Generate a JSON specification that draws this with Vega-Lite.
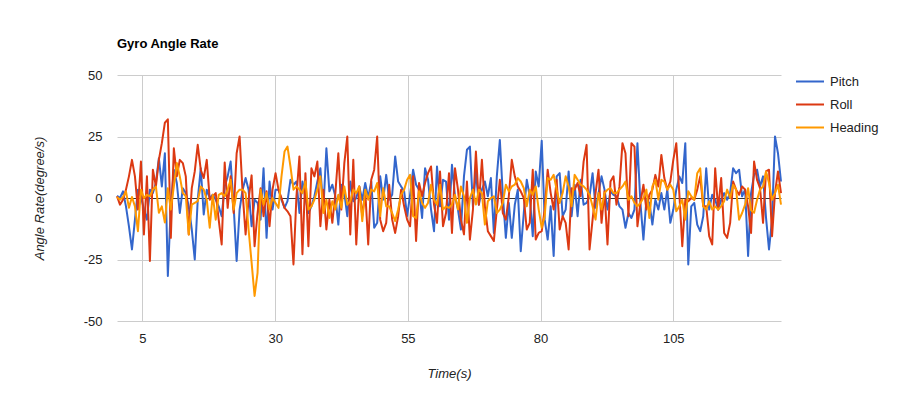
{
"$schema": "https://vega.github.io/schema/vega-lite/v6.json",
"width": 664, "height": 246,
"autosize": {"type": "none"},
"padding": {"left": 117, "top": 75, "right": 130, "bottom": 72},
"background": "white",
"title": {"text": "Gyro Angle Rate", "anchor": "start", "frame": "group", "offset": 18, "fontSize": 13, "fontWeight": "bold", "font": "Liberation Sans", "color": "#000"},
"data": {"values": [
{"t":0.2,"Pitch":0.9,"Roll":0.7,"Heading":0.4},
{"t":0.76,"Pitch":0,"Roll":-2.7,"Heading":-0.7},
{"t":1.33,"Pitch":2.7,"Roll":-0.7,"Heading":0.4},
{"t":1.89,"Pitch":-3.4,"Roll":3.4,"Heading":2.7},
{"t":2.45,"Pitch":-11.5,"Roll":8.8,"Heading":-4},
{"t":3.02,"Pitch":-20.9,"Roll":15.5,"Heading":0.4},
{"t":3.58,"Pitch":-8.8,"Roll":8.8,"Heading":-3.4},
{"t":4.14,"Pitch":3.4,"Roll":-4.7,"Heading":-13.5},
{"t":4.71,"Pitch":0.7,"Roll":14.8,"Heading":3.4},
{"t":5.27,"Pitch":-4.7,"Roll":-14.8,"Heading":0},
{"t":5.84,"Pitch":-8.8,"Roll":8.8,"Heading":1.3},
{"t":6.4,"Pitch":3.4,"Roll":-25.6,"Heading":0.7},
{"t":6.96,"Pitch":2,"Roll":11.5,"Heading":3.4},
{"t":7.53,"Pitch":6.1,"Roll":4.7,"Heading":4.7},
{"t":8.09,"Pitch":16.2,"Roll":15.5,"Heading":-6},
{"t":8.65,"Pitch":4.7,"Roll":22.3,"Heading":-3.4},
{"t":9.22,"Pitch":18.2,"Roll":30.6,"Heading":-10},
{"t":9.78,"Pitch":-31.7,"Roll":32,"Heading":4},
{"t":10.34,"Pitch":-3.4,"Roll":-16.2,"Heading":-4.7},
{"t":10.91,"Pitch":11.5,"Roll":20.2,"Heading":4.7},
{"t":11.47,"Pitch":6.1,"Roll":8.8,"Heading":14.2},
{"t":12.03,"Pitch":-6.1,"Roll":15.5,"Heading":8.8},
{"t":12.6,"Pitch":4,"Roll":14.2,"Heading":2},
{"t":13.16,"Pitch":2,"Roll":8.8,"Heading":0.7},
{"t":13.72,"Pitch":-3.4,"Roll":-14.8,"Heading":-14.8},
{"t":14.29,"Pitch":-12.8,"Roll":4,"Heading":-2.7},
{"t":14.85,"Pitch":-25,"Roll":10.8,"Heading":-2},
{"t":15.41,"Pitch":-0.7,"Roll":21.6,"Heading":-1.3},
{"t":15.98,"Pitch":12.1,"Roll":11.5,"Heading":4.7},
{"t":16.54,"Pitch":-6.7,"Roll":8.1,"Heading":3.4},
{"t":17.11,"Pitch":3.4,"Roll":15.5,"Heading":-0.7},
{"t":17.67,"Pitch":0,"Roll":-0.7,"Heading":-12.1},
{"t":18.23,"Pitch":1.3,"Roll":0.7,"Heading":1.3},
{"t":18.8,"Pitch":-0.7,"Roll":2,"Heading":-8.8},
{"t":19.36,"Pitch":-3.4,"Roll":-8.8,"Heading":1.3},
{"t":19.92,"Pitch":-7.4,"Roll":-18.9,"Heading":2},
{"t":20.49,"Pitch":4.7,"Roll":14.4,"Heading":0.7},
{"t":21.05,"Pitch":8.8,"Roll":-4,"Heading":3.4},
{"t":21.61,"Pitch":14.8,"Roll":8.8,"Heading":7.4},
{"t":22.18,"Pitch":-3.4,"Roll":-6.1,"Heading":-4.7},
{"t":22.74,"Pitch":-25.6,"Roll":18.2,"Heading":2},
{"t":23.3,"Pitch":-4.7,"Roll":25,"Heading":3.4},
{"t":23.87,"Pitch":3.4,"Roll":2,"Heading":3.4},
{"t":24.43,"Pitch":8.1,"Roll":-14.8,"Heading":2},
{"t":24.99,"Pitch":3.4,"Roll":-0.7,"Heading":-12.8},
{"t":25.56,"Pitch":-11.5,"Roll":9.2,"Heading":-26.3},
{"t":26.12,"Pitch":-0.7,"Roll":-19.6,"Heading":-39.8},
{"t":26.68,"Pitch":-2,"Roll":-6.1,"Heading":-30.4},
{"t":27.25,"Pitch":-8.8,"Roll":4,"Heading":3.4},
{"t":27.81,"Pitch":12.1,"Roll":-7.4,"Heading":-2.7},
{"t":28.38,"Pitch":-16.2,"Roll":2.7,"Heading":2},
{"t":28.94,"Pitch":6.7,"Roll":-11.5,"Heading":-4.7},
{"t":29.5,"Pitch":-4.7,"Roll":3.4,"Heading":0},
{"t":30.07,"Pitch":3.4,"Roll":10.1,"Heading":-2},
{"t":30.63,"Pitch":3.4,"Roll":3.4,"Heading":-4},
{"t":31.19,"Pitch":-0.7,"Roll":0,"Heading":8.8},
{"t":31.76,"Pitch":-4,"Roll":-4,"Heading":18.9},
{"t":32.32,"Pitch":-1.3,"Roll":-5.4,"Heading":20.9},
{"t":32.88,"Pitch":7.4,"Roll":-7.4,"Heading":12.8},
{"t":33.45,"Pitch":5.4,"Roll":-27,"Heading":3.4},
{"t":34.01,"Pitch":6.7,"Roll":0.7,"Heading":4.7},
{"t":34.57,"Pitch":-6.1,"Roll":16.9,"Heading":3.4},
{"t":35.14,"Pitch":6.7,"Roll":-22.9,"Heading":2},
{"t":35.7,"Pitch":0,"Roll":10.1,"Heading":6.7},
{"t":36.26,"Pitch":-6.1,"Roll":-19.6,"Heading":-4.7},
{"t":36.83,"Pitch":-3.4,"Roll":12.1,"Heading":-3.4},
{"t":37.39,"Pitch":0.7,"Roll":8.8,"Heading":-0.7},
{"t":37.95,"Pitch":6.7,"Roll":14.8,"Heading":3.4},
{"t":38.52,"Pitch":12.1,"Roll":-11.5,"Heading":8.8},
{"t":39.08,"Pitch":-4.7,"Roll":3.4,"Heading":-6.1},
{"t":39.65,"Pitch":20.2,"Roll":-12.8,"Heading":-0.7},
{"t":40.21,"Pitch":2.7,"Roll":-0.7,"Heading":-8.1},
{"t":40.77,"Pitch":5.4,"Roll":-10.1,"Heading":-1.3},
{"t":41.34,"Pitch":0.7,"Roll":2,"Heading":-4.7},
{"t":41.9,"Pitch":-10.8,"Roll":18.2,"Heading":1.3},
{"t":42.46,"Pitch":5.4,"Roll":-4.7,"Heading":-4},
{"t":43.03,"Pitch":2,"Roll":14.2,"Heading":4.7},
{"t":43.59,"Pitch":-7.4,"Roll":25,"Heading":-2.7},
{"t":44.15,"Pitch":6.7,"Roll":-14.8,"Heading":-1.3},
{"t":44.72,"Pitch":-1.3,"Roll":15.5,"Heading":3.4},
{"t":45.28,"Pitch":0,"Roll":-18.9,"Heading":2},
{"t":45.84,"Pitch":4.7,"Roll":4.7,"Heading":4.7},
{"t":46.41,"Pitch":-0.7,"Roll":-7.4,"Heading":-9.4},
{"t":46.97,"Pitch":6.1,"Roll":2.7,"Heading":3.4},
{"t":47.53,"Pitch":0,"Roll":-18.9,"Heading":-0.7},
{"t":48.1,"Pitch":6.7,"Roll":7.4,"Heading":3.4},
{"t":48.66,"Pitch":-12.1,"Roll":11.5,"Heading":2.7},
{"t":49.22,"Pitch":-10.1,"Roll":25,"Heading":6.1},
{"t":49.79,"Pitch":8.8,"Roll":-8.8,"Heading":-7.4},
{"t":50.35,"Pitch":-0.7,"Roll":-13.5,"Heading":4},
{"t":50.92,"Pitch":9.4,"Roll":-10.1,"Heading":-3.4},
{"t":51.48,"Pitch":-0.7,"Roll":5.4,"Heading":-3.4},
{"t":52.04,"Pitch":1.3,"Roll":-8.8,"Heading":-6.1},
{"t":52.61,"Pitch":16.9,"Roll":-14.2,"Heading":-9.4},
{"t":53.17,"Pitch":6.7,"Roll":-7.4,"Heading":-4.7},
{"t":53.73,"Pitch":4.7,"Roll":3.4,"Heading":1.3},
{"t":54.3,"Pitch":2.7,"Roll":-3.4,"Heading":3.4},
{"t":54.86,"Pitch":-7.4,"Roll":-8.8,"Heading":7.4},
{"t":55.42,"Pitch":1.3,"Roll":-11.5,"Heading":9.4},
{"t":55.99,"Pitch":11.5,"Roll":8.8,"Heading":-7.4},
{"t":56.55,"Pitch":5.4,"Roll":-17.5,"Heading":-8.1},
{"t":57.11,"Pitch":3.4,"Roll":6.1,"Heading":2.7},
{"t":57.68,"Pitch":-8.1,"Roll":0.7,"Heading":-2},
{"t":58.24,"Pitch":12.1,"Roll":6.1,"Heading":-4},
{"t":58.8,"Pitch":7.4,"Roll":10.1,"Heading":-2},
{"t":59.37,"Pitch":-4.7,"Roll":12.8,"Heading":5.4},
{"t":59.93,"Pitch":-13.5,"Roll":-2.7,"Heading":-0.7},
{"t":60.49,"Pitch":12.8,"Roll":-10.1,"Heading":-2.7},
{"t":61.06,"Pitch":-3.4,"Roll":10.8,"Heading":5.4},
{"t":61.62,"Pitch":7.4,"Roll":-11.5,"Heading":-4.7},
{"t":62.19,"Pitch":6.7,"Roll":-6.1,"Heading":-3.4},
{"t":62.75,"Pitch":-8.8,"Roll":10.1,"Heading":-4},
{"t":63.31,"Pitch":13.5,"Roll":-14.2,"Heading":-2.7},
{"t":63.88,"Pitch":0.7,"Roll":12.1,"Heading":1.3},
{"t":64.44,"Pitch":-4.7,"Roll":3.4,"Heading":-4.7},
{"t":65.0,"Pitch":-12.8,"Roll":-8.8,"Heading":4.7},
{"t":65.57,"Pitch":8.8,"Roll":-14.8,"Heading":0.7},
{"t":66.13,"Pitch":19.6,"Roll":6.7,"Heading":-10.1},
{"t":66.69,"Pitch":20.9,"Roll":-16.9,"Heading":0},
{"t":67.26,"Pitch":-3.4,"Roll":-4.7,"Heading":3.4},
{"t":67.82,"Pitch":10.8,"Roll":18.9,"Heading":-2.7},
{"t":68.38,"Pitch":-2.7,"Roll":-2.7,"Heading":3.4},
{"t":68.95,"Pitch":3.4,"Roll":15.5,"Heading":2},
{"t":69.51,"Pitch":6.7,"Roll":-3.4,"Heading":-10.8},
{"t":70.07,"Pitch":0.7,"Roll":-13.5,"Heading":-1.3},
{"t":70.64,"Pitch":8.1,"Roll":-15.5,"Heading":0},
{"t":71.2,"Pitch":-14.2,"Roll":-17.5,"Heading":0.7},
{"t":71.76,"Pitch":8.8,"Roll":-4.7,"Heading":-6.1},
{"t":72.33,"Pitch":23.6,"Roll":7.4,"Heading":-4.7},
{"t":72.89,"Pitch":1.3,"Roll":-6.1,"Heading":-2},
{"t":73.46,"Pitch":-16.2,"Roll":-8.8,"Heading":5.4},
{"t":74.02,"Pitch":-2,"Roll":0.7,"Heading":2.7},
{"t":74.58,"Pitch":-16.2,"Roll":15.5,"Heading":4.7},
{"t":75.15,"Pitch":-2.7,"Roll":8.8,"Heading":5.4},
{"t":75.71,"Pitch":3.4,"Roll":4.7,"Heading":8.1},
{"t":76.27,"Pitch":-21.6,"Roll":2.7,"Heading":6.7},
{"t":76.84,"Pitch":-6.1,"Roll":0,"Heading":4},
{"t":77.4,"Pitch":7.4,"Roll":-12.8,"Heading":-3.4},
{"t":77.96,"Pitch":0.7,"Roll":-10.1,"Heading":3.4},
{"t":78.53,"Pitch":-15.5,"Roll":11.5,"Heading":1.3},
{"t":79.09,"Pitch":10.8,"Roll":-16.9,"Heading":4.7},
{"t":79.65,"Pitch":4.7,"Roll":-14.2,"Heading":-4.7},
{"t":80.22,"Pitch":23.3,"Roll":-13.5,"Heading":-12.1},
{"t":80.78,"Pitch":-8.8,"Roll":-4.7,"Heading":-7.4},
{"t":81.34,"Pitch":-16.9,"Roll":11.5,"Heading":8.1},
{"t":81.91,"Pitch":-3.4,"Roll":2,"Heading":7.4},
{"t":82.47,"Pitch":-23.6,"Roll":-4.7,"Heading":9.4},
{"t":83.03,"Pitch":8.8,"Roll":7.4,"Heading":3.4},
{"t":83.6,"Pitch":10.1,"Roll":-12.8,"Heading":-2},
{"t":84.16,"Pitch":-7.4,"Roll":-7.4,"Heading":2},
{"t":84.73,"Pitch":-4.7,"Roll":-10.1,"Heading":8.8},
{"t":85.29,"Pitch":10.8,"Roll":-20.9,"Heading":4.7},
{"t":85.85,"Pitch":-7.4,"Roll":4,"Heading":-3.4},
{"t":86.42,"Pitch":5.4,"Roll":3.4,"Heading":9.4},
{"t":86.98,"Pitch":-7.4,"Roll":6.1,"Heading":7.4},
{"t":87.54,"Pitch":7.4,"Roll":0.7,"Heading":5.4},
{"t":88.11,"Pitch":-2.7,"Roll":14.8,"Heading":4.7},
{"t":88.67,"Pitch":-2,"Roll":21.6,"Heading":3.4},
{"t":89.23,"Pitch":0.7,"Roll":-20.9,"Heading":1.3},
{"t":89.8,"Pitch":10.1,"Roll":-8.8,"Heading":-3.4},
{"t":90.36,"Pitch":-4,"Roll":2,"Heading":-8.8},
{"t":90.92,"Pitch":2,"Roll":11.5,"Heading":2},
{"t":91.49,"Pitch":8.8,"Roll":-10.1,"Heading":-4.7},
{"t":92.05,"Pitch":3.4,"Roll":2.7,"Heading":2},
{"t":92.61,"Pitch":-4.7,"Roll":-18.9,"Heading":3.4},
{"t":93.18,"Pitch":2.7,"Roll":6.7,"Heading":4},
{"t":93.74,"Pitch":1.3,"Roll":8.8,"Heading":2},
{"t":94.3,"Pitch":0.7,"Roll":-2.7,"Heading":2},
{"t":94.87,"Pitch":-3.4,"Roll":4.7,"Heading":3.4},
{"t":95.43,"Pitch":-4.7,"Roll":22.3,"Heading":4.7},
{"t":96.0,"Pitch":-12.1,"Roll":18.2,"Heading":6.7},
{"t":96.56,"Pitch":-6.1,"Roll":-7.4,"Heading":-0.7},
{"t":97.12,"Pitch":-8.1,"Roll":22.3,"Heading":0.7},
{"t":97.69,"Pitch":-4.7,"Roll":20.9,"Heading":-2},
{"t":98.25,"Pitch":22.3,"Roll":-11.5,"Heading":-3.4},
{"t":98.81,"Pitch":-2,"Roll":-2,"Heading":-2},
{"t":99.38,"Pitch":-16.9,"Roll":5.4,"Heading":0},
{"t":99.94,"Pitch":-0.7,"Roll":-4.7,"Heading":3.4},
{"t":100.5,"Pitch":-2,"Roll":1.3,"Heading":-8.1},
{"t":101.07,"Pitch":-10.8,"Roll":3.4,"Heading":4.7},
{"t":101.63,"Pitch":-0.7,"Roll":9.4,"Heading":7.4},
{"t":102.19,"Pitch":-4.7,"Roll":4.7,"Heading":-0.7},
{"t":102.76,"Pitch":2,"Roll":17.5,"Heading":7.4},
{"t":103.32,"Pitch":-4.7,"Roll":8.1,"Heading":6.7},
{"t":103.88,"Pitch":3.4,"Roll":3.4,"Heading":3.4},
{"t":104.45,"Pitch":-10.1,"Roll":6.7,"Heading":5.4},
{"t":105.01,"Pitch":-4.7,"Roll":15.5,"Heading":3.4},
{"t":105.57,"Pitch":3.4,"Roll":22.3,"Heading":-5.4},
{"t":106.14,"Pitch":8.8,"Roll":2,"Heading":-3.4},
{"t":106.7,"Pitch":6.1,"Roll":-19.6,"Heading":-0.7},
{"t":107.27,"Pitch":22.3,"Roll":-0.7,"Heading":-8.8},
{"t":107.83,"Pitch":-27,"Roll":-1.3,"Heading":2.7},
{"t":108.39,"Pitch":-3.4,"Roll":0,"Heading":0.7},
{"t":108.96,"Pitch":-2,"Roll":-0.7,"Heading":-0.7},
{"t":109.52,"Pitch":-10.8,"Roll":3.4,"Heading":10.1},
{"t":110.08,"Pitch":-13.5,"Roll":8.8,"Heading":12.1},
{"t":110.65,"Pitch":-7.4,"Roll":-3.4,"Heading":-3.4},
{"t":111.21,"Pitch":12.1,"Roll":-3.4,"Heading":-4.7},
{"t":111.77,"Pitch":-4.7,"Roll":-15.5,"Heading":-1.3},
{"t":112.34,"Pitch":1.3,"Roll":-18.9,"Heading":-4.7},
{"t":112.9,"Pitch":-0.7,"Roll":12.1,"Heading":-3.4},
{"t":113.46,"Pitch":-4.7,"Roll":-4.7,"Heading":-4.7},
{"t":114.03,"Pitch":-0.7,"Roll":8.1,"Heading":-3.4},
{"t":114.59,"Pitch":2,"Roll":-14.2,"Heading":-1.3},
{"t":115.15,"Pitch":-0.7,"Roll":-16.2,"Heading":3.4},
{"t":115.72,"Pitch":2,"Roll":-10.1,"Heading":0},
{"t":116.28,"Pitch":12.1,"Roll":6.7,"Heading":5.4},
{"t":116.84,"Pitch":10.1,"Roll":3.4,"Heading":3.4},
{"t":117.41,"Pitch":11.5,"Roll":1.3,"Heading":-8.8},
{"t":117.97,"Pitch":0.7,"Roll":4.7,"Heading":-6.1},
{"t":118.54,"Pitch":3.4,"Roll":3.4,"Heading":-2.7},
{"t":119.1,"Pitch":-23.6,"Roll":-3.4,"Heading":4},
{"t":119.66,"Pitch":2,"Roll":-14.2,"Heading":-5},
{"t":120.23,"Pitch":9.4,"Roll":14.8,"Heading":-6},
{"t":120.79,"Pitch":11.5,"Roll":7.4,"Heading":-0.7},
{"t":121.35,"Pitch":4.7,"Roll":4,"Heading":3.4},
{"t":121.92,"Pitch":8.8,"Roll":-10.1,"Heading":4.7},
{"t":122.48,"Pitch":-8.1,"Roll":10.8,"Heading":10.8},
{"t":123.04,"Pitch":-20.9,"Roll":11.5,"Heading":6.1},
{"t":123.61,"Pitch":-8.8,"Roll":-15.5,"Heading":-0.7},
{"t":124.17,"Pitch":25,"Roll":2,"Heading":2},
{"t":124.73,"Pitch":18.2,"Roll":10.8,"Heading":5.4},
{"t":125.3,"Pitch":6.7,"Roll":2,"Heading":-2.7}
]},
"transform": [{"fold": ["Pitch", "Roll", "Heading"], "as": ["series", "value"]}],
"mark": {"type": "line", "strokeWidth": 2, "strokeJoin": "round"},
"encoding": {
  "x": {"field": "t", "type": "quantitative",
        "scale": {"domain": [0.2, 125.3], "nice": false, "zero": false},
        "axis": {"values": [5, 30, 55, 80, 105], "title": "Time(s)", "labelPadding": 11,
                 "titleX": 332, "titleY": 52, "titleBaseline": "middle", "titleAlign": "center"}},
  "y": {"field": "value", "type": "quantitative",
        "scale": {"domain": [-50, 50], "nice": false},
        "axis": {"values": [-50, -25, 0, 25, 50], "title": "Angle Rate(degree/s)", "labelPadding": 15,
                 "labelExpr": "toString(datum.value)",
                 "titleX": -78, "titleY": 123, "titleBaseline": "middle", "titleAlign": "center", "titleAngle": -90,
                 "gridColor": {"condition": {"test": "datum.value === 0", "value": "#333333"}, "value": "#cccccc"}}},
  "color": {"field": "series", "type": "nominal",
            "scale": {"domain": ["Pitch", "Roll", "Heading"], "range": ["#3366cc", "#dc3912", "#ff9900"]},
            "legend": {"title": null, "orient": "none", "legendX": 678, "legendY": -5,
                       "symbolType": "stroke", "symbolSize": 784, "symbolStrokeWidth": 2,
                       "labelFontSize": 13, "labelFont": "Liberation Sans", "labelColor": "#222222",
                       "labelOffset": 5, "rowPadding": 0, "clipHeight": 23}}
},
"config": {
  "view": {"stroke": null},
  "font": "Liberation Sans",
  "axis": {"domain": false, "ticks": false, "grid": true, "gridColor": "#cccccc", "gridWidth": 1,
           "labelFont": "Liberation Sans", "labelFontSize": 13, "labelColor": "#222222",
           "titleFont": "Liberation Sans", "titleFontSize": 13, "titleFontStyle": "italic",
           "titleFontWeight": "normal", "titleColor": "#222222"}
}
}
